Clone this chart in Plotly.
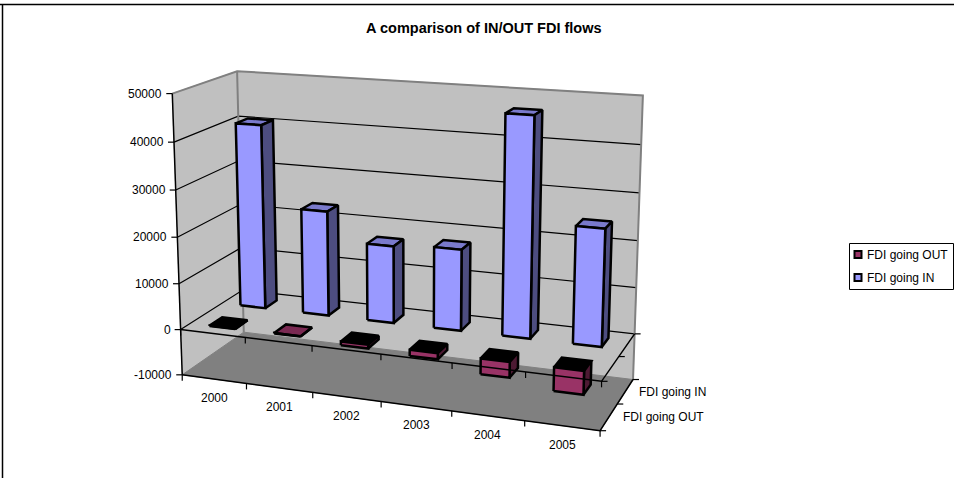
import numpy as np
import plotly.graph_objects as go

TITLE = "A comparison of IN/OUT FDI flows"
years = ["2000", "2001", "2002", "2003", "2004", "2005"]
series_names = ["FDI going OUT", "FDI going IN"]
fdi_in = [40600, 23000, 16800, 17500, 46600, 24700]
fdi_out = [-100, 100, -800, -1300, -3300, -4900]
value_ticks = [-10000, 0, 10000, 20000, 30000, 40000, 50000]

V_MIN, V_MAX = value_ticks[0], value_ticks[-1]
W, H = 954, 478

# Calibration of the 3-D view: (category frac, depth frac, value) -> pixel
calib = [
    (0, 0, -10000, 183, 375), (1, 0, -10000, 599, 431),
    (0, 1, -10000, 243, 332), (1, 1, -10000, 633, 379),
    (0, 0, 50000, 172, 93), (0, 1, 50000, 237, 72), (1, 1, 50000, 643, 96),
    (0, 0, 0, 181, 329), (1, 0, 0, 602, 381), (1, 1, 0, 635, 333),
    (0, 0, 10000, 179, 283), (0, 0, 20000, 177, 237),
    (0, 0, 30000, 176, 190), (0, 0, 40000, 174, 142),
    (1 / 6, 0, 0, 245, 338), (2 / 6, 0, 0, 312, 346), (3 / 6, 0, 0, 381, 354),
    (4 / 6, 0, 0, 452, 362), (5 / 6, 0, 0, 525, 372),
    (1 / 6, 0, -10000, 247, 384), (2 / 6, 0, -10000, 313, 393), (3 / 6, 0, -10000, 381, 402),
    (4 / 6, 0, -10000, 452, 411), (5 / 6, 0, -10000, 524, 421),
    (1, 0.5, -10000, 617, 404), (1, 0.5, 0, 620, 357),
]


def norm(v):
    return (v - V_MIN) / (V_MAX - V_MIN)


def fit_camera():
    A, b = [], []
    for u, d, v, px, py in calib:
        w = norm(v)
        A.append([u, d, w, 1, 0, 0, 0, 0, -px * u, -px * d, -px * w])
        b.append(px)
        A.append([0, 0, 0, 0, u, d, w, 1, -py * u, -py * d, -py * w])
        b.append(py)
    p = np.linalg.lstsq(np.array(A, float), np.array(b, float), rcond=None)[0]
    return np.append(p, 1.0).reshape(3, 4)


CAM = fit_camera()


def P(u, d, v):
    q = CAM @ np.array([u, d, norm(v), 1.0])
    return q[0] / q[2], q[1] / q[2]


fig = go.Figure()


def poly(points, fill=None, color="black", width=1.0, hover=None):
    xy = [P(*pt) for pt in points]
    if fill:
        xy.append(xy[0])
    fig.add_trace(go.Scatter(
        x=[a for a, _ in xy], y=[b for _, b in xy], mode="lines",
        fill="toself" if fill else None, fillcolor=fill,
        line=dict(color=color, width=width), showlegend=False,
        hoverinfo="text" if hover else "skip", text=hover,
    ))


def seg(x0, y0, x1, y1, width=1.2):
    fig.add_trace(go.Scatter(x=[x0, x1], y=[y0, y1], mode="lines", line=dict(color="black", width=width),
                             showlegend=False, hoverinfo="skip"))


def label(x, y, text, size=12, bold=False, anchor="center"):
    fig.add_annotation(x=x, y=y, text=f"<b>{text}</b>" if bold else text,
                       showarrow=False, xanchor=anchor, yanchor="middle",
                       font=dict(family="Liberation Sans, Arial", size=size, color="black"))


WALL, FLOOR, EDGE = "#C0C0C0", "#808080", "#808080"
# Walls and floor
poly([(0, 0, V_MIN), (0, 1, V_MIN), (0, 1, V_MAX), (0, 0, V_MAX)], fill=WALL, color=WALL)
poly([(0, 1, V_MIN), (1, 1, V_MIN), (1, 1, V_MAX), (0, 1, V_MAX)], fill=WALL, color=WALL)
poly([(0, 0, V_MIN), (1, 0, V_MIN), (1, 1, V_MIN), (0, 1, V_MIN)], fill=FLOOR, color=FLOOR)
# Gridlines
for v in value_ticks[1:-1]:
    poly([(0, 0, v), (0, 1, v), (1, 1, v)], width=1.2)
# Wall outlines
poly([(0, 0, V_MAX), (0, 1, V_MAX), (1, 1, V_MAX), (1, 1, V_MIN)], color=EDGE, width=2)
poly([(0, 1, V_MAX), (0, 1, V_MIN)], color=EDGE, width=2)


def bar(i, row, value, front, side, top_col, name):
    n = len(years)
    u0, u1 = (i + 0.3) / n, (i + 0.7) / n
    d0, d1 = (row + 0.3) / 2, (row + 0.7) / 2
    tip = f"{name}, {years[i]}: {value}"
    lo, hi = min(0, value), max(0, value)
    poly([(u0, d0, hi), (u1, d0, hi), (u1, d1, hi), (u0, d1, hi)], fill=top_col, width=2.5, hover=tip)
    poly([(u1, d0, lo), (u1, d1, lo), (u1, d1, hi), (u1, d0, hi)], fill=side, width=2.5, hover=tip)
    poly([(u0, d0, lo), (u1, d0, lo), (u1, d0, hi), (u0, d0, hi)], fill=front, width=2.5, hover=tip)


for i, v in enumerate(fdi_in):
    bar(i, 1, v, "#9999FF", "#4D4D80", "#7A7ACC", series_names[1])
for i, v in enumerate(fdi_out):
    bar(i, 0, v, "#993366", "#4D1A33", "#000000" if v < 0 else "#7A2952", series_names[0])

# Axes lines and ticks
n = len(years)
poly([(0, 0, V_MAX), (0, 0, V_MIN)], width=1.5)
poly([(0, 0, V_MIN), (1, 0, V_MIN), (1, 1, V_MIN)], width=1.5)
poly([(0, 0, 0), (1, 0, 0), (1, 1, 0)], width=1.5)
for v in value_ticks:
    x, y = P(0, 0, v)
    seg(x - 6, y, x, y)
    label(x - 8, y, str(v), anchor="right")
for base in (V_MIN, 0):
    for i in range(n + 1):
        x, y = P(i / n, 0, base)
        seg(x, y, x, y + 6)
    for k in range(3):
        x, y = P(1, k / 2, base)
        seg(x, y, x + 6, y)
for i, yr in enumerate(years):
    x, y = P((i + 0.5) / n, 0, V_MIN)
    label(x, y + 19, yr)
for k, name in enumerate(series_names):
    x, y = P(1, (k + 0.5) / 2, V_MIN)
    label(x + 12, y, name, anchor="left")

label(484, 27.5, TITLE, size=14.5, bold=True)

# Frame (top and left edges only are visible) and legend box
shapes = [
    dict(type="line", x0=0, y0=4.5, x1=W, y1=4.5, line=dict(color="black", width=1.5)),
    dict(type="line", x0=2.5, y0=4, x1=2.5, y1=H, line=dict(color="black", width=1.5)),
    dict(type="rect", x0=849.5, y0=243.5, x1=953.5, y1=289.5, line=dict(color="black", width=1),
         fillcolor="white", layer="below"),
]
fig.update_layout(shapes=shapes)
for k, (name, col) in enumerate(zip(series_names, ["#993366", "#9999FF"])):
    yy = 254.5 + k * 23
    fig.add_trace(go.Scatter(x=[858], y=[yy], mode="markers",
                             marker=dict(symbol="square", size=7, color=col, line=dict(color="black", width=2)),
                             showlegend=False, hoverinfo="skip"))
    label(865, yy, name, anchor="left")

fig.update_layout(
    width=W, height=H, margin=dict(l=0, r=0, t=0, b=0), showlegend=False,
    paper_bgcolor="white", plot_bgcolor="white",
    xaxis=dict(range=[0, W], visible=False, fixedrange=True),
    yaxis=dict(range=[H, 0], visible=False, fixedrange=True),
)
fig.write_html("out.html", config={"displayModeBar": False},
               post_script="document.body.style.margin='0';document.body.style.overflow='hidden';")
